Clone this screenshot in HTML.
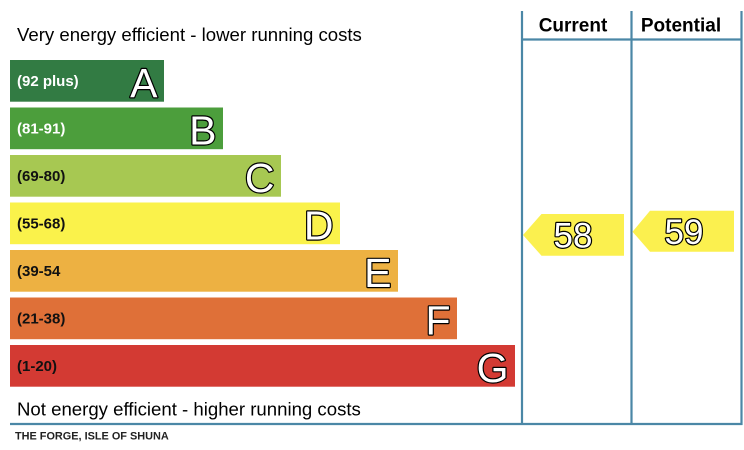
<!DOCTYPE html>
<html>
<head>
<meta charset="utf-8">
<style>
html,body{margin:0;padding:0;background:#fff;}
svg{display:block;}
text{font-family:"Liberation Sans",Arial,sans-serif;}
</style>
</head>
<body>
<svg width="744" height="450" viewBox="0 0 744 450" xmlns="http://www.w3.org/2000/svg">
  <rect x="0" y="0" width="744" height="450" fill="#ffffff"/>

  <!-- top / bottom captions -->
  <text x="17" y="41" font-size="18.6" fill="#000">Very energy efficient - lower running costs</text>
  <text x="17" y="415.5" font-size="18.6" fill="#000">Not energy efficient - higher running costs</text>
  <text x="15" y="439.5" font-size="10.9" font-weight="bold" fill="#222">THE FORGE, ISLE OF SHUNA</text>

  <!-- bars -->
  <rect x="10" y="60" width="154" height="41.7" fill="#327b43"/>
  <rect x="10" y="107.5" width="213" height="41.7" fill="#4c9e3c"/>
  <rect x="10" y="155" width="271" height="41.7" fill="#a7c852"/>
  <rect x="10" y="202.5" width="330" height="41.7" fill="#faf24b"/>
  <rect x="10" y="250" width="388" height="41.7" fill="#edb142"/>
  <rect x="10" y="297.5" width="447" height="41.7" fill="#df7038"/>
  <rect x="10" y="345" width="505" height="41.7" fill="#d33a33"/>

  <!-- range labels -->
  <g font-size="15" font-weight="bold">
    <text x="17" y="86" fill="#ffffff">(92 plus)</text>
    <text x="17" y="133.5" fill="#ffffff">(81-91)</text>
    <text x="17" y="181" fill="#111">(69-80)</text>
    <text x="17" y="228.5" fill="#111">(55-68)</text>
    <text x="17" y="276" fill="#111">(39-54</text>
    <text x="17" y="323.5" fill="#111">(21-38)</text>
    <text x="17" y="371" fill="#111">(1-20)</text>
  </g>

  <!-- band letters -->
  <g font-size="41" fill="#ffffff" stroke="#000" stroke-width="2.4" paint-order="stroke" stroke-linejoin="round" text-anchor="end">
    <text x="157.5" y="97">A</text>
    <text x="216.5" y="144.5">B</text>
    <text x="274.5" y="192">C</text>
    <text x="333.5" y="239.5">D</text>
    <text x="391.5" y="287">E</text>
    <text x="450.5" y="334.5">F</text>
    <text x="508.5" y="382">G</text>
  </g>

  <!-- table lines -->
  <g stroke="#4b87a6" stroke-width="2.2" fill="none">
    <line x1="522" y1="11" x2="522" y2="425"/>
    <line x1="631.5" y1="11" x2="631.5" y2="425"/>
    <line x1="741.5" y1="11" x2="741.5" y2="425"/>
    <line x1="522" y1="39.5" x2="742.5" y2="39.5"/>
    <line x1="10" y1="424" x2="742.5" y2="424"/>
  </g>

  <!-- headers -->
  <text x="573" y="31.5" font-size="19" font-weight="bold" text-anchor="middle" fill="#000">Current</text>
  <text x="681" y="31.5" font-size="19" font-weight="bold" text-anchor="middle" fill="#000">Potential</text>

  <!-- arrows -->
  <polygon points="523,235 541.5,214 624,214 624,255.7 541.5,255.7" fill="#fbf04f"/>
  <polygon points="632.5,231.7 650,210.7 734,210.7 734,251.7 650,251.7" fill="#fbf04f"/>

  <g font-size="35" fill="#ffffff" stroke="#000" stroke-width="2.4" paint-order="stroke" stroke-linejoin="round" text-anchor="middle">
    <text x="573" y="247.5">58</text>
    <text x="684" y="244">59</text>
  </g>
</svg>
</body>
</html>
